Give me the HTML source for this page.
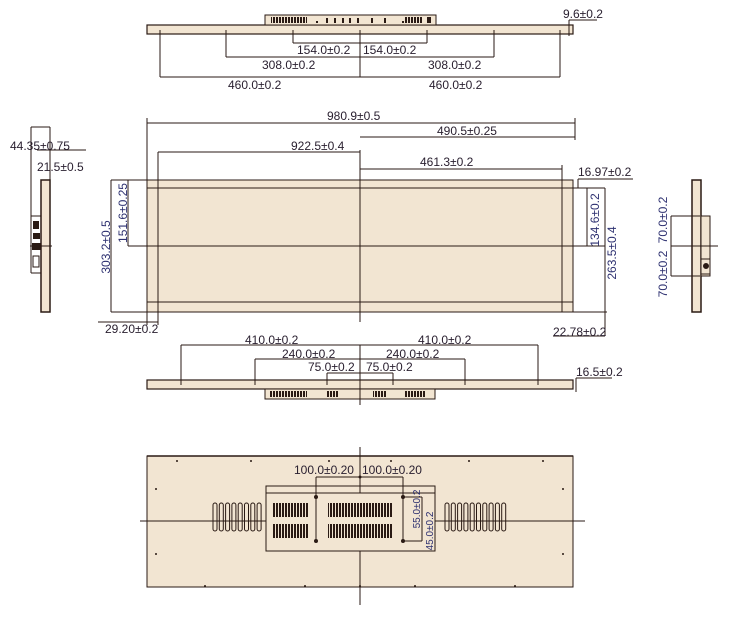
<!DOCTYPE html>
<html><head><meta charset="utf-8"><style>
html,body{margin:0;padding:0;background:#fff}
svg{display:block}
text{font-family:"Liberation Sans",sans-serif;font-size:12px;fill:#2a2030}
.b{fill:#2d3070}
.s{font-size:10px}
</style></head><body>
<svg width="733" height="624" viewBox="0 0 733 624" xmlns="http://www.w3.org/2000/svg">
<defs>
<pattern id="v" width="3" height="20" patternUnits="userSpaceOnUse"><rect x="0" y="0" width="2" height="20" fill="#2a1a14"/></pattern>
</defs>
<g stroke="#2a1a14" stroke-width="1" fill="none">
<!-- TOP VIEW -->
<rect x="147" y="25" width="426" height="9" fill="#f2e5d2" stroke-width="1.2"/>
<rect x="265" y="15" width="171" height="10" fill="#f2e5d2"/>
<rect x="271" y="17" width="36" height="6" fill="url(#v)" stroke="none"/>
<rect x="405" y="17" width="18" height="6" fill="url(#v)" stroke="none"/>
<rect x="427" y="17" width="4" height="6" fill="#2a1a14" stroke="none"/>
<g fill="#2a1a14" stroke="none">
<rect x="326" y="18" width="2" height="5"/><rect x="334" y="18" width="2" height="5"/><rect x="342" y="18" width="2" height="5"/><rect x="349" y="18" width="2" height="5"/><rect x="357" y="18" width="2" height="5"/><rect x="371" y="18" width="2" height="5"/><rect x="384" y="18" width="2" height="5"/><rect x="316" y="21" width="2" height="2"/><rect x="402" y="21" width="2" height="2"/>
</g>
<path d="M160 30V77M226 30V57M293 30V43M360 30V77M427 30V43M494 30V57M560 30V77"/>
<path d="M293 43H427M226 57H494M160 77H560"/>
<path d="M569 20V36M569 20H597"/>
<!-- FRONT VIEW -->
<rect x="147" y="180" width="426" height="132" fill="#f2e5d2"/>
<path d="M147 188H573M147 302H573M158 180V312M562 180V312"/>
<path d="M128 246H605M360 150V322"/>
<path d="M147 123H575M147 118V325M158 152V325M158 152H360M360 137H575M575 118V140M360 169H562M562 165V180"/>
<path d="M98 322H158"/>
<path d="M111 180H147M111 312H147M111 180V312M128 180V246"/>
<path d="M573 188H605M573 312H607M587 188V246M605 188V312M605 312V336M578 179H633M578 179V188M553 336H605"/>
<!-- LEFT SIDE -->
<rect x="41" y="180" width="9" height="132" fill="#f2e5d2" stroke-width="1.5"/>
<path d="M31 127V273M50 127V180M31 127H50M37 150H86M50 150V180M30 246H52M31 216H41M31 273H41"/>
<g fill="#2a1a14" stroke="none">
<rect x="33" y="221" width="6" height="8"/><rect x="33" y="233" width="7" height="6"/><rect x="32" y="243" width="9" height="7"/><rect x="33" y="256" width="6" height="11" fill="none" stroke="#2a1a14"/>
</g>
<!-- RIGHT SIDE -->
<rect x="692" y="180" width="9" height="132" fill="#f2e5d2" stroke-width="1.5"/>
<rect x="701" y="216" width="9" height="60" fill="#f2e5d2"/>
<rect x="701" y="259" width="9" height="15"/>
<circle cx="706" cy="266" r="2.5" fill="#2a1a14"/>
<path d="M671 216V276M671 216H700M671 246H718M671 276H700"/>
<!-- BOTTOM EDGE VIEW -->
<rect x="147" y="380" width="426" height="9" fill="#f2e5d2" stroke-width="1.2"/>
<rect x="265" y="389" width="170" height="10" fill="#f2e5d2"/>
<rect x="270" y="391" width="37" height="6" fill="url(#v)" stroke="none"/>
<rect x="326" y="391" width="13" height="6" fill="url(#v)" stroke="none"/>
<rect x="373" y="391" width="13" height="6" fill="url(#v)" stroke="none"/>
<rect x="405" y="391" width="20" height="6" fill="url(#v)" stroke="none"/>
<path d="M181 345H538M181 345V385M538 345V385M255 359H465M255 359V385M465 359V385M327 373H393M327 373V385M393 373V385M360 345V405"/>
<path d="M576 378H612M576 378V392"/>
<!-- BACK VIEW -->
<rect x="147" y="456" width="426" height="131" fill="#f2e5d2"/>
<path d="M147 456H573" stroke-width="1.5"/>
<path d="M140 521H585M360 447V605"/>
<rect x="266" y="486" width="169" height="7"/>
<rect x="266" y="493" width="169" height="58" fill="#f2e5d2"/>
<rect x="272" y="503" width="36" height="14" fill="url(#v)" stroke="none"/>
<rect x="272" y="524" width="36" height="14" fill="url(#v)" stroke="none"/>
<rect x="328" y="503" width="64" height="14" fill="url(#v)" stroke="none"/>
<rect x="328" y="524" width="64" height="14" fill="url(#v)" stroke="none"/>
<path d="M316 477V541M403 477V541M316 477H403M403 497H422M403 541H422M422 497V541"/>
<g fill="#2a1a14" stroke="none">
<circle cx="316" cy="497" r="2"/><circle cx="316" cy="541" r="2"/><circle cx="403" cy="497" r="2"/><circle cx="403" cy="541" r="2"/><circle cx="360" cy="477" r="1.5"/>
<circle cx="177" cy="461" r="1"/><circle cx="251" cy="461" r="1"/><circle cx="329" cy="461" r="1"/><circle cx="391" cy="461" r="1"/><circle cx="469" cy="461" r="1"/><circle cx="543" cy="461" r="1"/>
<circle cx="156" cy="489" r="1"/><circle cx="563" cy="489" r="1"/><circle cx="156" cy="554" r="1"/><circle cx="563" cy="554" r="1"/>
<circle cx="205" cy="586" r="1"/><circle cx="305" cy="586" r="1"/><circle cx="360" cy="586" r="1"/><circle cx="415" cy="586" r="1"/><circle cx="515" cy="586" r="1"/>
</g>
<g>
<rect x="213" y="503" width="4" height="28" rx="2"/><rect x="219.3" y="503" width="4" height="28" rx="2"/><rect x="225.6" y="503" width="4" height="28" rx="2"/><rect x="231.9" y="503" width="4" height="28" rx="2"/><rect x="238.2" y="503" width="4" height="28" rx="2"/><rect x="244.5" y="503" width="4" height="28" rx="2"/><rect x="250.8" y="503" width="4" height="28" rx="2"/><rect x="257.1" y="503" width="4" height="28" rx="2"/>
<rect x="445" y="503" width="4" height="28" rx="2"/><rect x="451.3" y="503" width="4" height="28" rx="2"/><rect x="457.6" y="503" width="4" height="28" rx="2"/><rect x="463.9" y="503" width="4" height="28" rx="2"/><rect x="470.2" y="503" width="4" height="28" rx="2"/><rect x="476.5" y="503" width="4" height="28" rx="2"/><rect x="482.8" y="503" width="4" height="28" rx="2"/><rect x="489.1" y="503" width="4" height="28" rx="2"/><rect x="495.4" y="503" width="4" height="28" rx="2"/><rect x="501.7" y="503" width="4" height="28" rx="2"/>
</g>
</g>
<!-- TEXT -->
<text x="297" y="54">154.0±0.2</text><text x="363" y="54">154.0±0.2</text>
<text x="262" y="69">308.0±0.2</text><text x="428" y="69">308.0±0.2</text>
<text x="228" y="89">460.0±0.2</text><text x="429" y="89">460.0±0.2</text>
<text x="563" y="18">9.6±0.2</text>
<text x="327" y="120">980.9±0.5</text>
<text x="291" y="150">922.5±0.4</text>
<text x="437" y="135">490.5±0.25</text>
<text x="420" y="166">461.3±0.2</text>
<text x="578" y="176">16.97±0.2</text>
<text x="553" y="336">22.78±0.2</text>
<text x="105" y="333">29.20±0.2</text>
<text x="10" y="150">44.35±0.75</text>
<text x="37" y="171">21.5±0.5</text>
<text class="b" transform="translate(110,247) rotate(-90)" text-anchor="middle">303.2±0.5</text>
<text class="b" transform="translate(127,213) rotate(-90)" text-anchor="middle">151.6±0.25</text>
<text class="b" transform="translate(599,220) rotate(-90)" text-anchor="middle">134.6±0.2</text>
<text class="b" transform="translate(616,253) rotate(-90)" text-anchor="middle">263.5±0.4</text>
<text class="b" transform="translate(667,220) rotate(-90)" text-anchor="middle">70.0±0.2</text>
<text class="b" transform="translate(667,274) rotate(-90)" text-anchor="middle">70.0±0.2</text>
<text x="245" y="344">410.0±0.2</text><text x="418" y="344">410.0±0.2</text>
<text x="282" y="358">240.0±0.2</text><text x="386" y="358">240.0±0.2</text>
<text x="308" y="371">75.0±0.2</text><text x="366" y="371">75.0±0.2</text>
<text x="576" y="376">16.5±0.2</text>
<text x="294" y="474">100.0±0.20</text><text x="362" y="474">100.0±0.20</text>
<text class="b s" transform="translate(420,509) rotate(-90)" text-anchor="middle">55.0±0.2</text>
<text class="b s" transform="translate(433,531) rotate(-90)" text-anchor="middle">45.0±0.2</text>
</svg>
</body></html>
